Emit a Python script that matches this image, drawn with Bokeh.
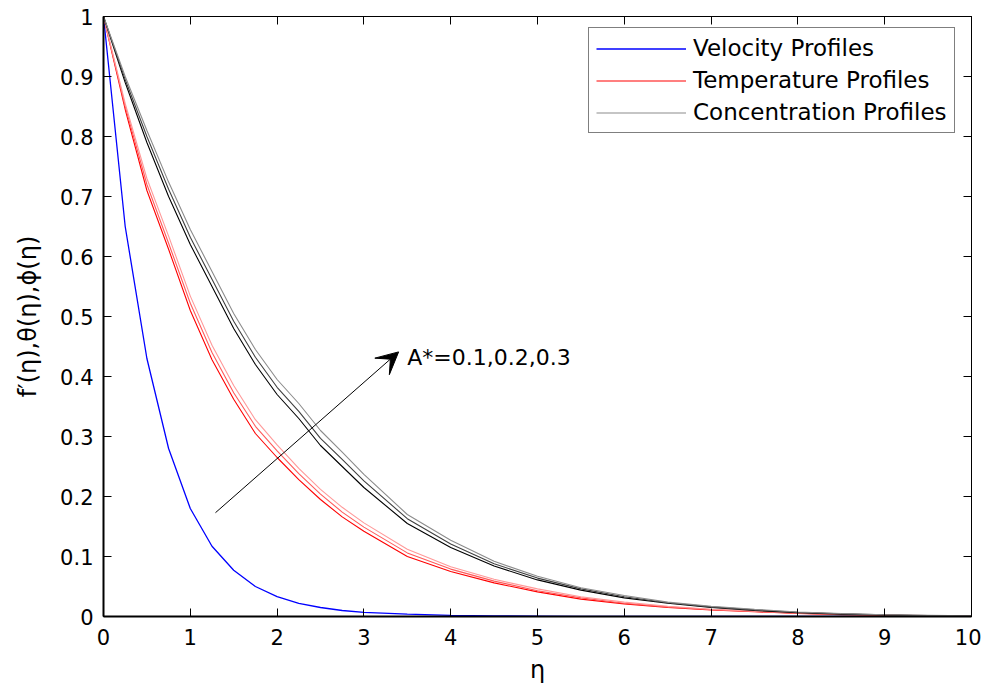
from bokeh.plotting import figure
from bokeh.models import (LinearAxis, FixedTicker, Legend, LegendItem, Arrow,
                          VeeHead, Label, Range1d, CustomLabelingPolicy)
from bokeh.embed import file_html
from bokeh.resources import INLINE

# ---------------- data ----------------
eta = [0, 0.25, 0.5, 0.75, 1.0, 1.25, 1.5, 1.75, 2.0, 2.25, 2.5, 2.75, 3.0,
       3.5, 4.0, 4.5, 5.0, 5.5, 6.0, 6.5, 7.0, 7.5, 8.0, 8.5, 9.0, 9.5, 10.0]

velocity = [1, 0.65, 0.43, 0.28, 0.18, 0.117, 0.077, 0.05, 0.033, 0.022, 0.015,
            0.01, 0.007, 0.004, 0.002, 0.001, 0.0005, 0, 0, 0, 0, 0, 0, 0, 0, 0, 0]

temp_a1 = [1, 0.845, 0.71, 0.612, 0.51, 0.428, 0.362, 0.305, 0.265, 0.228, 0.195,
           0.166, 0.142, 0.1, 0.075, 0.056, 0.041, 0.029, 0.021, 0.015, 0.011,
           0.008, 0.005, 0.003, 0.002, 0.001, 0.0005]
temp_a2 = [1, 0.85, 0.72, 0.622, 0.522, 0.44, 0.373, 0.317, 0.276, 0.238, 0.204,
           0.174, 0.149, 0.106, 0.079, 0.059, 0.043, 0.031, 0.022, 0.016, 0.0115,
           0.0085, 0.0055, 0.0035, 0.002, 0.001, 0.0005]
temp_a3 = [1, 0.855, 0.73, 0.634, 0.534, 0.452, 0.385, 0.328, 0.286, 0.247, 0.212,
           0.182, 0.156, 0.112, 0.083, 0.062, 0.046, 0.033, 0.024, 0.017, 0.012,
           0.009, 0.006, 0.004, 0.0025, 0.0015, 0.001]

conc_a1 = [1, 0.89, 0.79, 0.70, 0.62, 0.55, 0.48, 0.42, 0.37, 0.33, 0.285, 0.25,
           0.215, 0.155, 0.115, 0.084, 0.061, 0.044, 0.031, 0.022, 0.015, 0.01,
           0.0065, 0.004, 0.0025, 0.0012, 0.0005]
conc_a2 = [1, 0.895, 0.80, 0.712, 0.632, 0.562, 0.492, 0.432, 0.382, 0.342, 0.297,
           0.262, 0.226, 0.163, 0.121, 0.088, 0.064, 0.046, 0.033, 0.023, 0.016,
           0.011, 0.007, 0.0045, 0.0028, 0.0015, 0.0007]
conc_a3 = [1, 0.90, 0.81, 0.724, 0.645, 0.575, 0.505, 0.445, 0.395, 0.355, 0.31,
           0.274, 0.237, 0.17, 0.127, 0.092, 0.067, 0.048, 0.035, 0.024, 0.017,
           0.012, 0.0075, 0.005, 0.003, 0.0018, 0.001]

x_ticks = [0, 1, 2, 3, 4, 5, 6, 7, 8, 9, 10]
y_ticks = [0, 0.1, 0.2, 0.3, 0.4, 0.5, 0.6, 0.7, 0.8, 0.9, 1]
y_tick_labels = ["0", "0.1", "0.2", "0.3", "0.4", "0.5", "0.6", "0.7", "0.8", "0.9", "1"]

legend_labels = ["Velocity Profiles", "Temperature Profiles", "Concentration Profiles"]
annotation_text = "A*=0.1,0.2,0.3"
arrow_start = (1.29, 0.173)
arrow_end = (3.40, 0.441)
annotation_pos = (3.5, 0.432)

FONT = "DejaVu Sans"

# ---------------- figure ----------------
p = figure(width=981, height=686, output_backend="svg", toolbar_location=None,
           x_range=Range1d(0, 10), y_range=Range1d(0, 1),
           min_border_left=103, min_border_right=10, min_border_top=16,
           min_border_bottom=69)
p.grid.visible = False
p.outline_line_color = "black"
p.outline_line_width = 1
p.background_fill_color = "white"
p.border_fill_color = "white"

no_labels = CustomLabelingPolicy(code="""
try { for (let i = 0; i < indices.size; i++) { indices.unset(i) } } catch (e) {}
return indices
""")

def style_axis(ax, show_labels=True, width=2):
    ax.major_tick_in = 8
    ax.major_tick_out = 0
    ax.minor_tick_line_color = None
    ax.axis_line_width = width
    ax.axis_line_color = "black"
    ax.major_tick_line_color = "black"
    ax.major_tick_line_width = 1
    ax.major_label_text_font = FONT
    ax.major_label_text_color = "black"
    if show_labels:
        ax.major_label_text_font_size = "21px"
    else:
        ax.major_label_text_font_size = "0px"
        ax.major_label_standoff = 0
        ax.major_label_policy = no_labels

xax = p.xaxis[0]
yax = p.yaxis[0]
xax.ticker = FixedTicker(ticks=x_ticks)
yax.ticker = FixedTicker(ticks=y_ticks)
yax.major_label_overrides = {t: l for t, l in zip(y_ticks, y_tick_labels)}
style_axis(xax)
style_axis(yax)
xax.major_label_standoff = 12
yax.major_label_standoff = 10
xax.axis_label = "η"
yax.axis_label = "f′(η),θ(η),ϕ(η)"
for ax in (xax, yax):
    ax.axis_label_text_font = FONT
    ax.axis_label_text_font_size = "24px"
    ax.axis_label_text_font_style = "normal"
    ax.axis_label_text_color = "black"
xax.axis_label_standoff = 8
yax.axis_label_standoff = 15

top_ax = LinearAxis(ticker=FixedTicker(ticks=x_ticks))
right_ax = LinearAxis(ticker=FixedTicker(ticks=y_ticks))
style_axis(top_ax, show_labels=False, width=1)
style_axis(right_ax, show_labels=False, width=1)
p.add_layout(top_ax, "above")
p.add_layout(right_ax, "right")

# ---------------- lines ----------------
r_vel = p.line(eta, velocity, line_color="#0000ff", line_width=1.3)
r_t1 = p.line(eta, temp_a1, line_color="#ff0000", line_width=1.1)
r_t2 = p.line(eta, temp_a2, line_color="#ff5a5a", line_width=1.1)
r_t3 = p.line(eta, temp_a3, line_color="#ff9999", line_width=1.1)
r_c1 = p.line(eta, conc_a1, line_color="#000000", line_width=1.1)
r_c2 = p.line(eta, conc_a2, line_color="#404040", line_width=1.1)
r_c3 = p.line(eta, conc_a3, line_color="#8c8c8c", line_width=1.1)

# ---------------- annotation ----------------
p.add_layout(Arrow(x_start=arrow_start[0], y_start=arrow_start[1],
                   x_end=arrow_end[0], y_end=arrow_end[1],
                   line_color="black", line_width=1,
                   end=VeeHead(size=22, fill_color="black", line_color="black")))
p.add_layout(Label(x=annotation_pos[0], y=annotation_pos[1], text=annotation_text,
                   text_font=FONT, text_font_size="22px", text_baseline="middle",
                   text_color="black"))

# ---------------- legend ----------------
legend = Legend(items=[LegendItem(label=legend_labels[0], renderers=[r_vel]),
                       LegendItem(label=legend_labels[1], renderers=[r_t1]),
                       LegendItem(label=legend_labels[2], renderers=[r_c3])],
                location=(485, 483))
legend.label_text_font = FONT
legend.label_text_font_size = "23px"
legend.label_text_color = "black"
legend.glyph_width = 90
legend.glyph_height = 25
legend.label_height = 25
legend.label_standoff = 7
legend.spacing = 6
legend.padding = 7
legend.margin = 0
legend.border_line_color = "black"
legend.border_line_width = 1
legend.background_fill_color = "white"
legend.background_fill_alpha = 1
p.add_layout(legend)

open("out.html", "w").write(file_html(p, INLINE))
